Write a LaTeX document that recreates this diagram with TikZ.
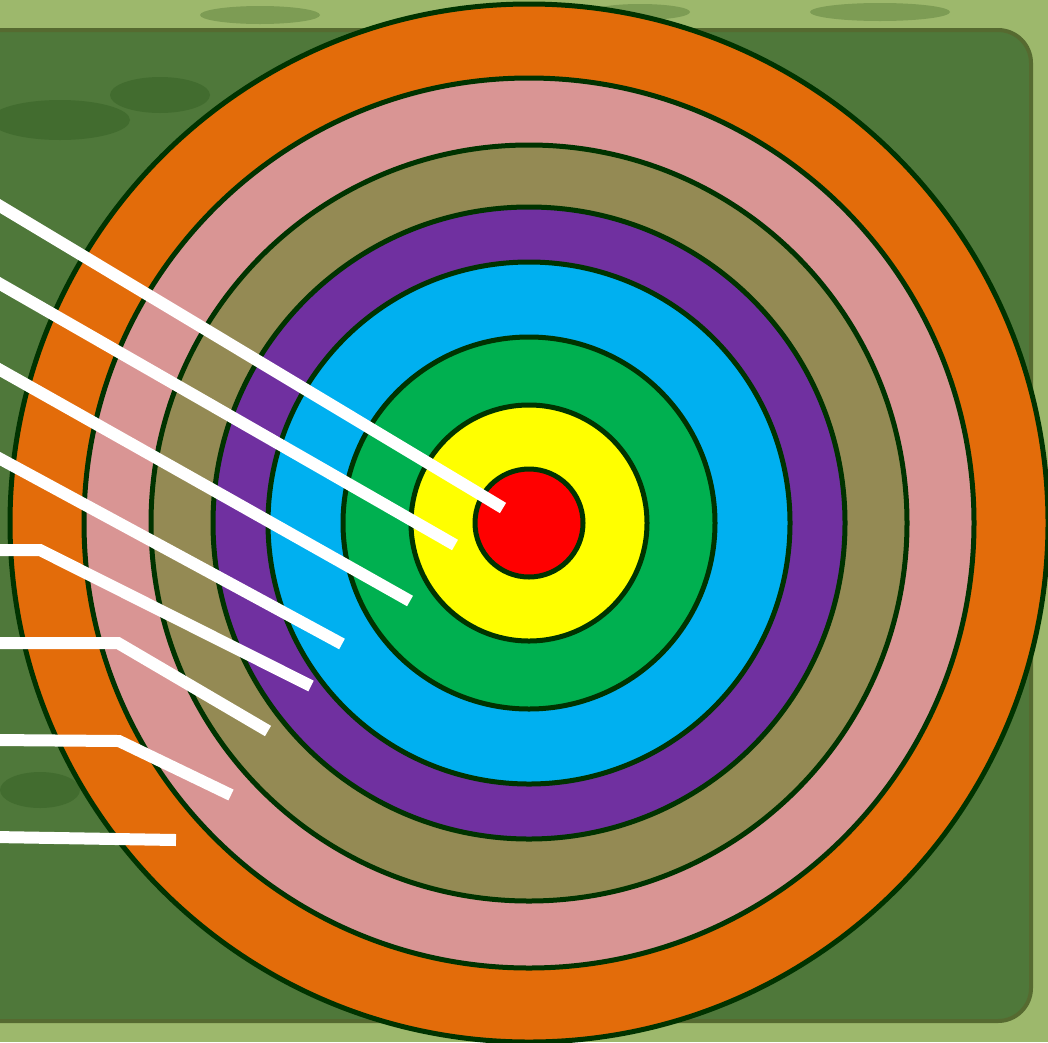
\documentclass[tikz,border=0pt]{standalone}
\usetikzlibrary{calc}
\definecolor{bgout}{HTML}{9DB86C}
\definecolor{panel}{HTML}{4F783A}
\definecolor{panelrim}{HTML}{566A30}
\definecolor{ringline}{HTML}{003300}
\definecolor{blobc}{HTML}{1E4A10}
\definecolor{cOrange}{HTML}{E36C0A}
\definecolor{cPink}{HTML}{D99594}
\definecolor{cOlive}{HTML}{948A54}
\definecolor{cPurple}{HTML}{7030A0}
\definecolor{cBlue}{HTML}{00B0F0}
\definecolor{cGreen}{HTML}{00B050}
\definecolor{cYellow}{HTML}{FFFF00}
\definecolor{cRed}{HTML}{FF0000}
\tikzset{
  ring/.style={draw=ringline, line width=5pt},
  pointer/.style={draw=white, line width=12pt, line cap=butt, line join=miter},
  blob/.style={fill=blobc, opacity=0.25},
}
\begin{document}
\begin{tikzpicture}[x=1pt,y=-1pt]
\useasboundingbox (0,0) rectangle (1048,1042);
\clip (0,0) rectangle (1048,1042);
% outer background
\fill[bgout] (0,0) rectangle (1048,1042);
\fill[blob] (260,15) ellipse (60 and 9);
\fill[blob] (640,12) ellipse (50 and 8);
\fill[blob] (880,12) ellipse (70 and 9);
% panel
\draw[panelrim, fill=panel, line width=4pt, rounded corners=33pt] (-40,30) rectangle (1031,1021);
\fill[blob] (60,120) ellipse (70 and 20);
\fill[blob] (160,95) ellipse (50 and 18);
\fill[blob] (40,790) ellipse (40 and 18);
% center
\coordinate (c) at (529,523);
\draw[ring, fill=cOrange] (c) circle (519);
\draw[ring, fill=cPink]   (c) circle (445);
\draw[ring, fill=cOlive]  (c) circle (378);
\draw[ring, fill=cPurple] (c) circle (316);
\draw[ring, fill=cBlue]   (c) circle (261);
\draw[ring, fill=cGreen]  (c) circle (186);
\draw[ring, fill=cYellow] (c) circle (118);
\draw[ring, fill=cRed]    (c) circle (54);
% pointer lines
\coordinate (a1) at (-5,203);  \coordinate (b1) at (503,508);
\coordinate (a2) at (-5,281);  \coordinate (b2) at (455,545);
\coordinate (a3) at (-5,367);  \coordinate (b3) at (410,601);
\coordinate (a4) at (-5,456);  \coordinate (b4) at (342,644);
\coordinate (a5) at (-5,550);  \coordinate (m5) at (40,550);  \coordinate (b5) at (311,686);
\coordinate (a6) at (-5,643);  \coordinate (m6) at (118,643); \coordinate (b6) at (268,731);
\coordinate (a7) at (-5,740);  \coordinate (m7) at (119,741); \coordinate (b7) at (231,795);
\coordinate (a8) at (-5,837);  \coordinate (b8) at (176,840);
\draw[pointer] (a1) -- (b1);
\draw[pointer] (a2) -- (b2);
\draw[pointer] (a3) -- (b3);
\draw[pointer] (a4) -- (b4);
\draw[pointer] (a5) -- (m5) -- (b5);
\draw[pointer] (a6) -- (m6) -- (b6);
\draw[pointer] (a7) -- (m7) -- (b7);
\draw[pointer] (a8) -- (b8);
\end{tikzpicture}
\end{document}
